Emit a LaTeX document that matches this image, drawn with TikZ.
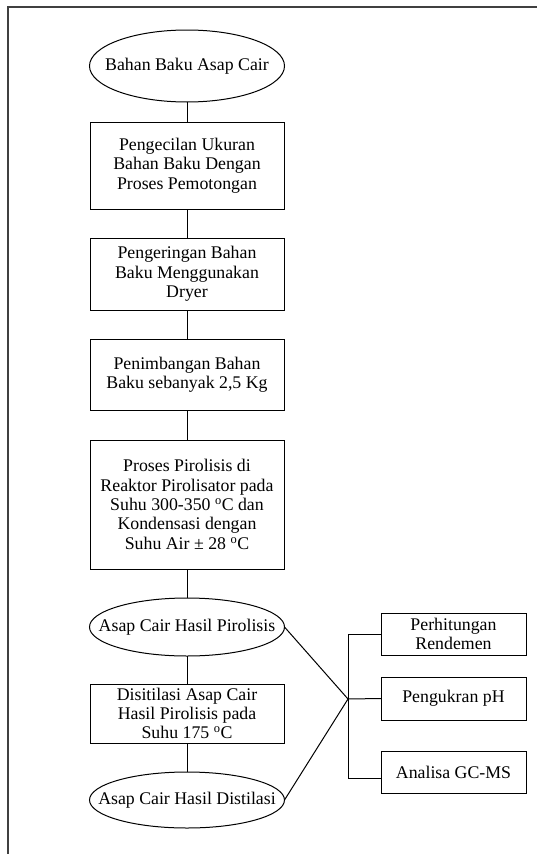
\documentclass[tikz,border=0pt]{standalone}
\usepackage{fontspec}
\setmainfont{Liberation Serif}
\usetikzlibrary{shapes.geometric}
\begin{document}
\begin{tikzpicture}[x=1pt,y=-1pt,
  txt/.style={font=\fontsize{17.8}{19.4}\selectfont, text=black, inner sep=0pt, outer sep=0pt},
  proc/.style={txt, align=center, draw, line width=1pt, rectangle, minimum width=194pt},
  oval/.style={txt, draw, line width=1pt, ellipse, minimum width=195pt},
  side/.style={txt, align=center, draw, line width=1pt, rectangle, minimum width=145pt, minimum height=42pt},
  link/.style={line width=1pt},
  frame/.style={line width=1.6pt, black!75}]
\useasboundingbox (0,0) rectangle (537,854);
% frame
\coordinate (f1) at (8,854);
\coordinate (f2) at (8,7);
\coordinate (f3) at (537,7);
\draw[frame] (f1) -- (f2) -- (f3);
% main column
\node[oval, minimum height=72pt] (E1) at (187,66) {\makebox[0pt][c]{Bahan Baku Asap Cair}};
\node[proc, minimum height=87pt] (B1) at (187,165.5) {Pengecilan Ukuran\\Bahan Baku Dengan\\Proses Pemotongan};
\node[proc, minimum height=72pt] (B2) at (187,274) {Pengeringan Bahan\\Baku Menggunakan\\Dryer};
\node[proc, minimum height=71pt] (B3) at (187,374.5) {Penimbangan Bahan\\Baku sebanyak 2,5 Kg};
\node[proc, minimum height=129pt] (B4) at (187,504.5) {Proses Pirolisis di\\Reaktor Pirolisator pada\\Suhu 300-350 \textsuperscript{o}C dan\\Kondensasi dengan\\Suhu Air ± 28 \textsuperscript{o}C};
\node[oval, minimum height=58pt] (E2) at (187,627) {\makebox[0pt][c]{Asap Cair Hasil Pirolisis}};
\node[proc, minimum height=59pt] (B5) at (187,713.5) {Disitilasi Asap Cair\\Hasil Pirolisis pada\\Suhu 175 \textsuperscript{o}C};
\node[oval, minimum height=56pt] (E3) at (187,800) {\makebox[0pt][c]{Asap Cair Hasil Distilasi}};
% right column
\node[side] (R1) at (453.5,634) {Perhitungan\\Rendemen};
\node[side, minimum height=43pt] (R2) at (453.5,698.5) {Pengukran pH};
\node[side] (R3) at (453.5,772) {Analisa GC-MS};
\coordinate (J) at (348,699);
\coordinate (R3b) at ([yshift=-6pt]R3.west);
% connectors
\draw[link] (E1) -- (B1);
\draw[link] (B1) -- (B2);
\draw[link] (B2) -- (B3);
\draw[link] (B3) -- (B4);
\draw[link] (B4) -- (E2);
\draw[link] (E2) -- (B5);
\draw[link] (B5) -- (E3);
\draw[link] (E2.east) -- (J);
\draw[link] (E3.east) -- (J);
\draw[link] (J) -- (R2.west);
\draw[link] (R1.west) -| (J |- R3b) -- (R3b);
\end{tikzpicture}
\end{document}
